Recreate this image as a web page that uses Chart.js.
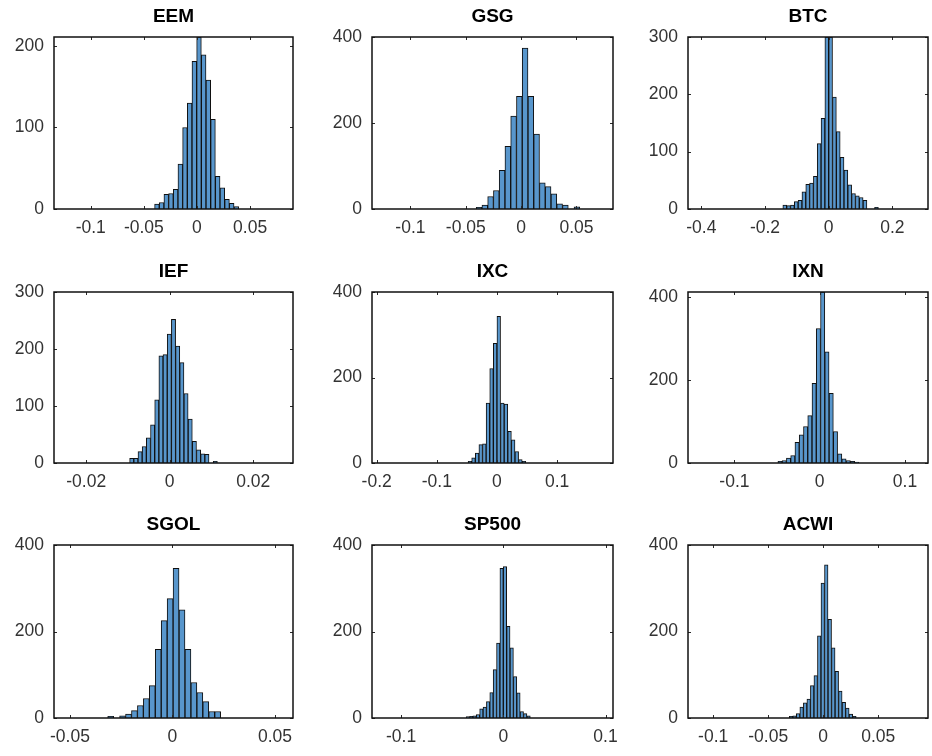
<!DOCTYPE html>
<html>
<head>
<meta charset="utf-8">
<script src="https://cdn.jsdelivr.net/npm/chart.js@4.4.0/dist/chart.umd.min.js"></script>
<style>
html,body{margin:0;padding:0;background:#fff;}
#wrap{position:relative;width:932px;height:756px;overflow:hidden;background:#fff;}
canvas{position:absolute;}
</style>
</head>
<body>
<div id="wrap"></div>
<script>
// ---------- data ----------
const titles = ['EEM', 'GSG', 'BTC', 'IEF', 'IXC', 'IXN', 'SGOL', 'SP500', 'ACWI'];

// histogram counts per bin
const countsEEM   = [6, 8, 18, 19, 24, 55, 100, 130, 181, 211, 189, 158, 110, 40, 26, 12, 7, 3];
const countsGSG   = [4, 9, 29, 43, 90, 146, 216, 262, 374, 262, 174, 61, 52, 35, 12, 9, 0, 5];
const countsBTC   = [7, 6, 7, 13, 15, 30, 43, 45, 57, 114, 158, 300, 300, 195, 135, 90, 68, 42, 27, 23, 20, 15, 0, 0, 3];
const countsIEF   = [8, 8, 20, 29, 44, 67, 111, 188, 190, 226, 252, 205, 176, 122, 77, 38, 23, 16, 15, 0, 3];
const countsIXC   = [4, 12, 23, 43, 45, 140, 221, 280, 343, 140, 138, 74, 54, 27, 8, 4];
const countsIXN   = [4, 6, 12, 18, 50, 68, 88, 114, 192, 324, 412, 268, 168, 76, 22, 10, 6, 4, 2];
const countsSGOL  = [4, 0, 5, 9, 17, 29, 45, 75, 159, 225, 276, 346, 250, 159, 82, 59, 38, 15, 15];
const countsSP500 = [3, 4, 5, 8, 21, 25, 38, 59, 112, 173, 346, 350, 212, 162, 96, 58, 15, 10, 5];
const countsACWI  = [4, 5, 10, 25, 35, 44, 75, 98, 190, 312, 354, 228, 162, 108, 62, 36, 23, 9, 4];

// left edge of the first bin and bin width, per panel
const binStart = [-0.0399, -0.0406, -0.144, -0.0096, -0.048, -0.049, -0.0316, -0.0363, -0.0308];
const binWidth = [0.0044, 0.0052, 0.012, 0.001, 0.006, 0.005, 0.0029, 0.0033, 0.0032];

// axis limits
const xMin = [-0.1346, -0.1347, -0.4418, -0.0277, -0.2078, -0.1544, -0.0578, -0.1284, -0.1229];
const xMax = [0.0904, 0.0830, 0.3118, 0.0295, 0.1930, 0.1270, 0.0588, 0.1073, 0.0953];
const yMax = [211, 400, 300, 300, 400, 412, 400, 400, 400];

// tick labels
const xTicks = [
  [-0.1, -0.05, 0, 0.05],
  [-0.1, -0.05, 0, 0.05],
  [-0.4, -0.2, 0, 0.2],
  [-0.02, 0, 0.02],
  [-0.2, -0.1, 0, 0.1],
  [-0.1, 0, 0.1],
  [-0.05, 0, 0.05],
  [-0.1, 0, 0.1],
  [-0.1, -0.05, 0, 0.05]
];
const yTicks = [
  [0, 100, 200],
  [0, 200, 400],
  [0, 100, 200, 300],
  [0, 100, 200, 300],
  [0, 200, 400],
  [0, 200, 400],
  [0, 200, 400],
  [0, 200, 400],
  [0, 200, 400]
];

const allCounts = [countsEEM, countsGSG, countsBTC, countsIEF, countsIXC, countsIXN, countsSGOL, countsSP500, countsACWI];

// ---------- layout / style ----------
const colLeft = [54, 372, 688], colRight = [293, 613, 928];
const rowTop = [37, 292, 545], rowBottom = [209, 463, 718];
const PADL = 54, PADT = 37, PADR = 16, PADB = 35;
const FONT = "'Liberation Sans', Arial, Helvetica, sans-serif";
const BAR_FILL = 'rgb(88,150,204)';

const boxPlugin = {
  id: 'matlabBox',
  afterDatasetsDraw(chart) {
    const {ctx, chartArea: a, scales: {x, y}} = chart;
    ctx.save();
    ctx.strokeStyle = '#2a2a2a';
    ctx.lineWidth = 1;
    const tl = 3;
    ctx.beginPath();
    x.ticks.forEach(t => {
      const px = Math.round(x.getPixelForValue(t.value)) + 0.5;
      ctx.moveTo(px, a.bottom); ctx.lineTo(px, a.bottom - tl);
      ctx.moveTo(px, a.top); ctx.lineTo(px, a.top + tl);
    });
    y.ticks.forEach(t => {
      const py = Math.round(y.getPixelForValue(t.value)) + 0.5;
      ctx.moveTo(a.left, py); ctx.lineTo(a.left + tl, py);
      ctx.moveTo(a.right, py); ctx.lineTo(a.right - tl, py);
    });
    ctx.stroke();
    ctx.strokeStyle = '#111';
    ctx.lineWidth = 1.5;
    ctx.strokeRect(a.left, a.top, a.right - a.left, a.bottom - a.top);
    ctx.restore();
  }
};

const wrap = document.getElementById('wrap');

titles.forEach((title, i) => {
  const r = Math.floor(i / 3), c = i % 3;
  const bw = colRight[c] - colLeft[c];
  const bh = rowBottom[r] - rowTop[r];
  const W = PADL + bw + PADR, H = PADT + bh + PADB;
  const cv = document.createElement('canvas');
  cv.width = W; cv.height = H;
  cv.style.width = W + 'px'; cv.style.height = H + 'px';
  cv.style.left = (colLeft[c] - PADL) + 'px';
  cv.style.top = (rowTop[r] - PADT) + 'px';
  wrap.appendChild(cv);

  const counts = allCounts[i];
  const pts = [];
  counts.forEach((n, k) => {
    if (n > 0) pts.push({x: binStart[i] + (k + 0.5) * binWidth[i], y: n});
  });

  new Chart(cv, {
    type: 'bar',
    data: {
      datasets: [{
        data: pts,
        backgroundColor: BAR_FILL,
        borderColor: '#101010',
        borderWidth: 1,
        borderSkipped: 'start',
        categoryPercentage: 1,
        barPercentage: 1
      }]
    },
    options: {
      responsive: false,
      animation: false,
      devicePixelRatio: 1,
      layout: {padding: {left: 0, top: 0, right: PADR, bottom: 0}},
      plugins: {
        legend: {display: false},
        tooltip: {enabled: false},
        title: {
          display: true,
          text: title,
          fullSize: false,
          color: '#000',
          font: {family: FONT, size: 19, weight: 'bold', lineHeight: 1},
          padding: {top: 7, bottom: 11}
        }
      },
      scales: {
        x: {
          type: 'linear',
          min: xMin[i], max: xMax[i],
          offset: false,
          grid: {display: false, drawTicks: false},
          border: {display: false},
          ticks: {
            font: {family: FONT, size: 17.5},
            color: '#333',
            padding: 9,
            maxRotation: 0,
            autoSkip: false,
            callback: v => String(v)
          },
          afterBuildTicks: s => { s.ticks = xTicks[i].map(v => ({value: v})); },
          afterFit: s => { s.height = PADB; }
        },
        y: {
          type: 'linear',
          min: 0, max: yMax[i],
          grid: {display: false, drawTicks: false},
          border: {display: false},
          ticks: {
            font: {family: FONT, size: 17.5},
            color: '#333',
            padding: 10,
            autoSkip: false,
            callback: v => String(v)
          },
          afterBuildTicks: s => { s.ticks = yTicks[i].map(v => ({value: v})); },
          afterFit: s => { s.width = PADL; }
        }
      }
    },
    plugins: [boxPlugin]
  });
});
</script>
</body>
</html>
